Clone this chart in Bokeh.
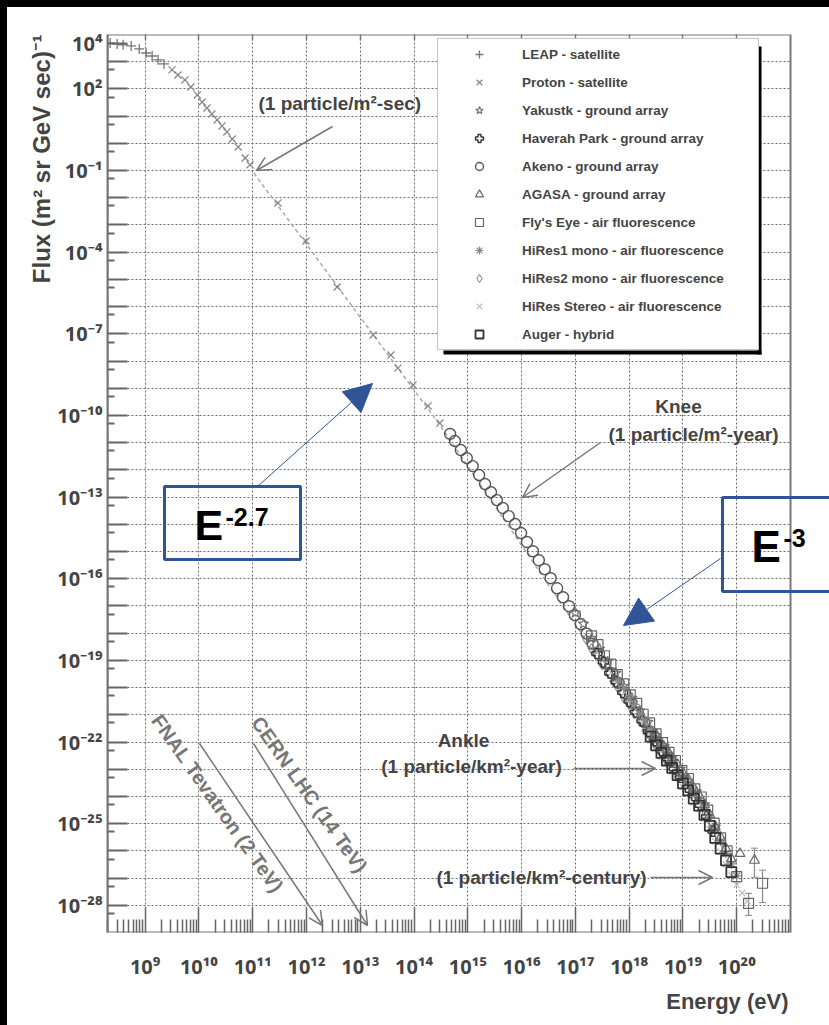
import numpy as np
from bokeh.plotting import figure
from bokeh.models import (FixedTicker, CustomJSTickFormatter, LogAxis, Label, Arrow, OpenHead,
                          NormalHead, BoxAnnotation, Legend, LegendItem, Whisker, TeeHead,
                          ColumnDataSource, Title)
from bokeh.embed import file_html
from bokeh.resources import INLINE

# ---- measured spectrum: log10(E / eV) and log10(flux / (m^2 sr GeV s)^-1) ----
leap_log_e = [8.35, 8.48, 8.59, 8.74, 8.89, 9.02, 9.13, 9.24, 9.35]
leap_log_flux = [3.69, 3.65, 3.62, 3.58, 3.47, 3.32, 3.21, 3.07, 2.92]

proton_log_e = [9.50, 9.61, 9.74, 9.85, 9.97, 10.06, 10.15, 10.24, 10.34, 10.43, 10.52, 10.62,
                10.73, 10.86, 10.95, 11.47, 11.99, 12.57, 13.24, 13.57, 13.70, 13.98, 14.26, 14.48]
proton_log_flux = [2.70, 2.51, 2.33, 2.07, 1.78, 1.52, 1.30, 1.08, 0.86, 0.64, 0.42, 0.16,
                   -0.13, -0.54, -0.79, -2.19, -3.59, -5.28, -7.04, -7.78, -8.26, -8.88, -9.65, -10.28]

yakutsk_log_e = [17.00, 17.15, 17.30, 17.45, 17.60, 17.75, 17.90, 18.05, 18.20, 18.35, 18.50, 18.65,
                 18.80, 18.95, 19.10, 19.25, 19.40, 19.60]
yakutsk_log_flux = [-17.25, -17.66, -18.18, -18.58, -19.05, -19.47, -19.95, -20.38, -20.85, -21.27,
                    -21.75, -22.15, -22.58, -22.99, -23.43, -23.82, -24.30, -25.12]

haverah_log_e = [17.40, 17.52, 17.64, 17.76, 17.88, 18.00, 18.12, 18.24, 18.36, 18.48, 18.60, 18.72,
                 18.84, 18.96, 19.08, 19.20, 19.32, 19.44, 19.56]
haverah_log_flux = [-18.75, -19.06, -19.47, -19.79, -20.18, -20.50, -20.90, -21.22, -21.62, -21.95,
                    -22.33, -22.62, -22.99, -23.30, -23.66, -23.97, -24.33, -24.74, -25.28]

akeno_log_e = [14.67, 14.76, 14.87, 14.98, 15.09, 15.21, 15.32, 15.43, 15.54, 15.65, 15.76, 15.88,
               15.99, 16.10, 16.21, 16.32, 16.43, 16.54, 16.66, 16.77, 16.88, 16.99, 17.10, 17.21,
               17.32, 17.44, 17.56, 17.68, 17.80, 17.92, 18.04, 18.16, 18.28, 18.40, 18.52, 18.64, 18.76]
akeno_log_flux = [-10.68, -10.94, -11.27, -11.57, -11.86, -12.19, -12.52, -12.82, -13.11, -13.40,
                  -13.70, -13.99, -14.32, -14.65, -14.99, -15.32, -15.65, -15.98, -16.35, -16.68,
                  -17.01, -17.34, -17.67, -18.02, -18.39, -18.75, -19.11, -19.47, -19.83, -20.19,
                  -20.55, -20.91, -21.27, -21.63, -21.99, -22.33, -22.66]

agasa_log_e = [18.5, 18.6, 18.7, 18.8, 18.9, 19.0, 19.1, 19.2, 19.3, 19.4, 19.5, 19.6, 19.7, 19.8,
               19.9, 20.06, 20.33]
agasa_log_flux = [-21.72, -22.05, -22.27, -22.58, -22.83, -23.14, -23.38, -23.70, -23.95, -24.30,
                  -24.68, -25.12, -25.50, -25.92, -26.30, -26.10, -26.35]

flys_eye_log_e = [17.30, 17.42, 17.54, 17.66, 17.78, 17.90, 18.02, 18.14, 18.26, 18.38, 18.50, 18.62,
                  18.74, 18.86, 18.98, 19.10, 19.22, 19.34, 19.46, 19.58, 19.70, 19.82, 20.00, 20.22, 20.48]
flys_eye_log_flux = [-18.10, -18.42, -18.83, -19.14, -19.52, -19.86, -20.27, -20.58, -20.98, -21.30,
                     -21.70, -22.02, -22.38, -22.68, -23.05, -23.34, -23.72, -24.02, -24.50, -24.98,
                     -25.52, -26.00, -26.95, -27.93, -27.19]

hires1_log_e = [17.8, 17.9, 18.0, 18.1, 18.2, 18.3, 18.4, 18.5, 18.6, 18.7, 18.8, 18.9, 19.0, 19.1,
                19.2, 19.3, 19.4, 19.5, 19.6, 19.7, 19.8, 19.9, 20.0]
hires1_log_flux = [-19.75, -20.03, -20.36, -20.62, -20.96, -21.22, -21.56, -21.83, -22.16, -22.38,
                   -22.70, -22.94, -23.26, -23.50, -23.82, -24.06, -24.42, -24.80, -25.27, -25.64,
                   -26.10, -26.48, -26.92]

hires2_log_e = [17.2, 17.3, 17.4, 17.5, 17.6, 17.7, 17.8, 17.9, 18.0, 18.1, 18.2, 18.3, 18.4, 18.5,
                18.6, 18.7, 18.8, 18.9]
hires2_log_flux = [-18.22, -18.57, -18.84, -19.17, -19.43, -19.77, -20.03, -20.37, -20.63, -20.97,
                   -21.24, -21.57, -21.83, -22.17, -22.43, -22.73, -22.97, -23.29]

stereo_log_e = [18.3, 18.4, 18.5, 18.6, 18.7, 18.8, 18.9, 19.0, 19.1, 19.2, 19.3, 19.4, 19.5, 19.6,
                19.7, 19.8, 19.9, 20.0, 20.1, 20.2]
stereo_log_flux = [-21.62, -21.95, -22.22, -22.55, -22.78, -23.09, -23.33, -23.65, -23.90, -24.21,
                   -24.46, -24.80, -25.20, -25.65, -26.03, -26.50, -26.88, -27.25, -27.55, -27.85]

auger_log_e = [18.4, 18.5, 18.6, 18.7, 18.8, 18.9, 19.0, 19.1, 19.2, 19.3, 19.4, 19.5, 19.6, 19.7,
               19.8, 19.9]
auger_log_flux = [-21.80, -22.12, -22.40, -22.68, -22.95, -23.22, -23.52, -23.78, -24.08, -24.34,
                  -24.68, -25.08, -25.52, -25.92, -26.35, -26.78]

# error bars on the highest-energy events
errbar_log_e = [20.33, 20.48, 20.22]
errbar_log_lo = [-26.97, -27.90, -28.37]
errbar_log_hi = [-25.90, -26.71, -27.56]

# dashed power-law guide
guide_log_e = [11.02, 14.48, 17.45]
guide_log_flux = [-1.09, -10.35, -18.99]

legend_labels = ["LEAP - satellite", "Proton - satellite", "Yakustk - ground array",
                 "Haverah Park - ground array", "Akeno - ground array", "AGASA - ground array",
                 "Fly's Eye - air fluorescence", "HiRes1 mono - air fluorescence",
                 "HiRes2 mono - air fluorescence", "HiRes Stereo - air fluorescence", "Auger - hybrid"]

FONT = "'Liberation Sans', 'Noto Sans', sans-serif"
TICK_FONT = "'Noto Sans', sans-serif"
TEXT = "#444444"
BLUE = "#2F5597"

E_MIN, E_AXIS_END, E_VIEW_END = 10 ** 8.3, 1e21, 10 ** 21.725
F_MIN, F_MAX = 1e-29, 1e4

# page layout: 7px black strip on the left and top, frame spans x 107..829, y 34..932 (page px)
PAGE_FRAME_L, PAGE_FRAME_B = 107, 932


def scr(px, py):
    """page pixel -> frame-relative screen units"""
    return px - PAGE_FRAME_L, PAGE_FRAME_B - py


p = figure(width=822, height=1018, x_axis_type="log", y_axis_type="log",
           x_range=(E_MIN, E_VIEW_END), y_range=(F_MIN, F_MAX),
           output_backend="svg", toolbar_location=None,
           min_border_left=100, min_border_right=0, min_border_top=27, min_border_bottom=93)
p.outline_line_color = None
p.background_fill_color = "white"
p.border_fill_color = "white"

SUP = ("const s={'0':'\u2070','1':'\u00b9','2':'\u00b2','3':'\u00b3','4':'\u2074','5':'\u2075',"
       "'6':'\u2076','7':'\u2077','8':'\u2078','9':'\u2079','-':'\u207b'};"
       "const sup=(n)=>String(n).split('').map(c=>s[c]).join('');")

# x axis: decades with log minor ticks pointing into the frame
x_major = [10.0 ** k for k in range(9, 21)]
x_minor = [m * 10.0 ** k for k in range(8, 21) for m in range(2, 10) if E_MIN < m * 10.0 ** k < E_AXIS_END]
xa = p.xaxis[0]
xa.ticker = FixedTicker(ticks=x_major, minor_ticks=x_minor)
xa.formatter = CustomJSTickFormatter(code=SUP + "return '10' + sup(Math.round(Math.log10(tick)));")
xa.major_tick_in = 25
xa.major_tick_out = 0
xa.minor_tick_in = 13
xa.minor_tick_out = 0
xa.major_tick_line_color = "#666666"
xa.minor_tick_line_color = "#666666"
xa.major_tick_line_width = 1.5
xa.minor_tick_line_width = 1.5
xa.axis_line_color = None
xa.major_label_standoff = 20
xa.major_label_text_font = TICK_FONT
xa.major_label_text_font_style = "bold"
xa.major_label_text_font_size = "20px"
xa.major_label_text_color = TEXT

# y axis: decade ticks, labels every third decade
y_major = [10 ** 3.67] + [10.0 ** k for k in range(3, -29, -1)]
y_minor = [5 * 10.0 ** k for k in range(2, -30, -1)]
ya = p.yaxis[0]
ya.ticker = FixedTicker(ticks=y_major, minor_ticks=y_minor)
ya.formatter = CustomJSTickFormatter(code=SUP + """
const e = Math.log10(tick);
if (e > 3.5) return '10' + sup(4);
const r = Math.round(e);
if (Math.abs(e - r) > 0.01 || ((r % 3) + 3) % 3 != 2) return '';
return '10' + sup(r);
""")
ya.major_tick_in = 20
ya.major_tick_out = 0
ya.minor_tick_in = 7
ya.minor_tick_out = 0
ya.major_tick_line_color = "#666666"
ya.minor_tick_line_color = "#666666"
ya.major_tick_line_width = 2
ya.minor_tick_line_width = 2
ya.axis_line_color = "#777777"
ya.axis_line_width = 2
ya.major_label_standoff = 5
ya.major_label_text_font = TICK_FONT
ya.major_label_text_font_style = "bold"
ya.major_label_text_font_size = "20px"
ya.major_label_text_color = TEXT

top = LogAxis(ticker=FixedTicker(ticks=x_major), formatter=CustomJSTickFormatter(code="return '';"),
              major_tick_in=6, major_tick_out=0, minor_tick_in=0, minor_tick_out=0,
              major_tick_line_color="#777777", major_tick_line_width=1.5, axis_line_color=None,
              major_label_text_font_size="1px")
p.add_layout(top, "above")

# axis titles
p.add_layout(Title(text="Flux (m\u00b2 sr GeV sec)\u207b\u00b9", align="right", offset=0, standoff=0,
                   text_font=FONT, text_font_style="bold", text_font_size="24px", text_color=TEXT), "left")
p.add_layout(Title(text="Energy (eV)", align="right", offset=41, standoff=8,
                   text_font=FONT, text_font_style="bold", text_font_size="22px", text_color=TEXT), "below")

# dotted grid at every decade
p.xgrid.ticker = FixedTicker(ticks=x_major)
p.ygrid.ticker = FixedTicker(ticks=[10.0 ** k for k in range(3, -29, -1)])
for g in (p.xgrid[0], p.ygrid[0]):
    g.grid_line_color = "#555555"
    g.grid_line_dash = "2 2"
    g.grid_line_width = 1
    g.grid_line_alpha = 0.85

# blank margin to the right of the plotting box, then the box outline itself
p.add_layout(BoxAnnotation(left=E_AXIS_END, right=E_VIEW_END, bottom=F_MIN, top=F_MAX, level="underlay",
                           fill_color="white", fill_alpha=1, line_alpha=0))
p.add_layout(BoxAnnotation(left=E_MIN, right=E_AXIS_END, bottom=F_MIN, top=F_MAX, level="underlay",
                           fill_alpha=0, line_color="#777777", line_alpha=1, line_width=2))


def src(log_e, log_flux):
    return ColumnDataSource(dict(e=10.0 ** np.array(log_e), f=10.0 ** np.array(log_flux)))


# power-law guide
p.line(10.0 ** np.array(guide_log_e), 10.0 ** np.array(guide_log_flux),
       line_color="#aaaaaa", line_width=1.5, line_dash="4 3")

# error bars
err_src = ColumnDataSource(dict(e=10.0 ** np.array(errbar_log_e), lo=10.0 ** np.array(errbar_log_lo),
                                hi=10.0 ** np.array(errbar_log_hi)))
p.add_layout(Whisker(base="e", lower="lo", upper="hi", source=err_src, dimension="height",
                     line_color="#888888", line_width=1.2,
                     upper_head=TeeHead(size=7, line_color="#888888"),
                     lower_head=TeeHead(size=7, line_color="#888888")))

r_leap = p.scatter("e", "f", source=src(leap_log_e, leap_log_flux), marker="cross", size=10,
                   line_color="#777777", line_width=1.3)
r_proton = p.scatter("e", "f", source=src(proton_log_e, proton_log_flux), marker="x", size=10,
                     line_color="#888888", line_width=1.3)
r_st = p.scatter("e", "f", source=src(stereo_log_e, stereo_log_flux), marker="x", size=9,
                 line_color="#bbbbbb", line_width=1.2)
r_hr2 = p.scatter("e", "f", source=src(hires2_log_e, hires2_log_flux), marker="diamond", size=10,
                  line_color="#999999", fill_color=None, line_width=1.2)
r_akeno = p.scatter("e", "f", source=src(akeno_log_e, akeno_log_flux), marker="circle", size=11,
                    line_color="#555555", fill_color=None, line_width=1.4)
r_yak = p.scatter("e", "f", source=src(yakutsk_log_e, yakutsk_log_flux), marker="star", size=11,
                  line_color="#777777", fill_color=None, line_width=1.2)
r_hav = p.scatter("e", "f", source=src(haverah_log_e, haverah_log_flux), marker="plus", size=10,
                  line_color="#333333", fill_color="white", fill_alpha=0.3, line_width=1.4)
r_fly = p.scatter("e", "f", source=src(flys_eye_log_e, flys_eye_log_flux), marker="square", size=10,
                  line_color="#666666", fill_color=None, line_width=1.2)
r_hr1 = p.scatter("e", "f", source=src(hires1_log_e, hires1_log_flux), marker="asterisk", size=10,
                  line_color="#888888", line_width=1.2)
r_agasa = p.scatter("e", "f", source=src(agasa_log_e, agasa_log_flux), marker="triangle", size=10,
                    line_color="#666666", fill_color=None, line_width=1.2)
r_auger = p.scatter("e", "f", source=src(auger_log_e, auger_log_flux), marker="square", size=10,
                    line_color="#333333", fill_color=None, line_width=1.8)

renderers = [r_leap, r_proton, r_yak, r_hav, r_akeno, r_agasa, r_fly, r_hr1, r_hr2, r_st, r_auger]


def screen_box(l, t, r, b, **kw):
    x0, y0 = scr(l, t)
    x1, y1 = scr(r, b)
    return BoxAnnotation(left=x0, right=x1, top=y0, bottom=y1, left_units="screen", right_units="screen",
                         top_units="screen", bottom_units="screen", **kw)


# legend panel with drop shadow
p.add_layout(screen_box(443, 350, 761, 354, fill_color="black", fill_alpha=1, line_alpha=0))
p.add_layout(screen_box(757, 46, 761, 354, fill_color="black", fill_alpha=1, line_alpha=0))
lx, ly = scr(437, 350)
legend = Legend(items=[LegendItem(label=t, renderers=[r]) for t, r in zip(legend_labels, renderers)],
                location=(lx, ly), margin=0, padding=5, spacing=8,
                glyph_width=72, glyph_height=20, label_height=20, label_width=231, label_standoff=7,
                label_text_font=FONT, label_text_font_style="bold", label_text_font_size="13.5px",
                label_text_color=TEXT, border_line_color="#888888", border_line_width=1,
                background_fill_color="white", background_fill_alpha=1)
p.add_layout(legend)


def text(t, px, py, size="19px", align="left", angle=0.0, color=TEXT):
    x, y = scr(px, py)
    p.add_layout(Label(x=x, y=y, x_units="screen", y_units="screen", text=t, angle=angle,
                       text_font=FONT, text_font_style="bold", text_font_size=size, text_color=color,
                       text_align=align, text_baseline="middle"))


def arrow(x0, y0, x1, y1, color="#777777", width=1.5, head=None):
    a, b = scr(x0, y0)
    c, d = scr(x1, y1)
    if head is None:
        head = OpenHead(size=14, line_color=color, line_width=width)
    p.add_layout(Arrow(x_start=a, y_start=b, x_end=c, y_end=d, start_units="screen", end_units="screen",
                       line_color=color, line_width=width, end=head))


# flux milestones
text("(1 particle/m\u00b2-sec)", 258, 103)
arrow(332, 126, 256, 170)
text("Knee", 678, 406, align="center")
text("(1 particle/m\u00b2-year)", 693, 434, align="center")
arrow(600, 442, 522, 497)
text("Ankle", 463, 740, align="center")
text("(1 particle/km\u00b2-year)", 471, 766, align="center")
arrow(573, 768, 655, 768)
text("(1 particle/km\u00b2-century)", 541, 877, align="center")
arrow(650, 877, 712, 877)

# collider equivalent energies
text("FNAL Tevatron (2 TeV)", 217, 803, size="20px", align="center", angle=-0.955, color="#777777")
arrow(199, 743, 322, 925)
text("CERN LHC (14 TeV)", 309, 794, size="20px", align="center", angle=-0.957, color="#777777")
arrow(253, 743, 367, 925)

# spectral index call-outs
p.add_layout(screen_box(164, 486, 300, 559, fill_alpha=0, line_color=BLUE, line_alpha=1, line_width=3))
p.add_layout(screen_box(722, 497, 840, 591, fill_alpha=0, line_color=BLUE, line_alpha=1, line_width=3))
text("E", 194, 524, size="43px", color="black")
text("-2.7", 225, 516, size="25px", color="black")
arrow(257, 486, 372, 383, color=BLUE, width=1,
      head=NormalHead(size=28, fill_color=BLUE, line_color=BLUE))
text("E", 751, 546, size="44px", color="black")
text("-3", 783, 537, size="25px", color="black")
arrow(720, 558, 623, 625, color=BLUE, width=1,
      head=NormalHead(size=28, fill_color=BLUE, line_color=BLUE))

# white page with a 7px black strip along the top and left edges
PAGE_CSS = ("{% block postamble %}<style>"
            "html { background-color: white; overflow: hidden; }"
            "body { background-color: white; overflow: hidden; width: 829px; height: 1025px;"
            " border-top: 7px solid black; border-left: 7px solid black; }"
            "</style>{% endblock %}")

with open("out.html", "w", encoding="utf-8") as fh:
    fh.write(file_html(p, INLINE, template=PAGE_CSS))
